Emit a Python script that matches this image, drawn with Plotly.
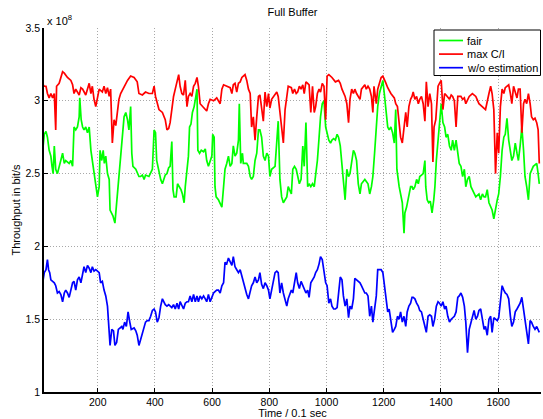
import plotly.graph_objects as go

# Time in units of 0.1 s, throughput in units of 1e8 bit/s
fair_t = [9,13,19,24,30,36,40,44,48,53,59,65,71,77,83,88,100,106,112,117,123,129,135,137,142,147,152,158,164,170,176,181,187,193,199,205,208,214,219,223,228,234,240,243,249,253,260,265,270,274,280,286,292,298,304,309,315,319,323,333,338,344,350,356,362,367,379,391,397,402,406,412,420,426,
          436,442,448,453,459,463,467,474,479,485,491,496,502,506,512,517,521,526,531,537,543,547,550,556,562,570,576,581,587,593,599,602,607,610,614,622,634,640,645,651,657,663,669,674,680,686,692,695,700,706,709,721,727,733,738,744,750,756,762,767,773,779,785,791,797,802,808,820,826,831,837,843,849,855,861,866,
          877,882,888,894,899,905,911,917,922,928,934,939,945,951,957,962,968,974,979,985,991,997,1002,1008,1014,1019,1025,1031,1037,1042,1048,1054,1059,1065,1071,1077,1082,1088,1094,1099,1105,1111,1117,1122,1134,1145,1151,1157,1162,1168,1174,1179,1185,1191,1197,1202,1208,1214,1219,1225,1231,1237,1242,1246,1254,1259,1265,1271,1274,1280,1288,1294,1299,
          1303,1309,1315,1321,1326,1332,1338,1344,1347,1352,1357,1363,1369,1375,1379,1384,1390,1395,1401,1407,1413,1418,1424,1430,1436,1441,1447,1453,1459,1464,1470,1476,1482,1487,1493,1499,1505,1510,1522,1533,1539,1545,1551,1556,1562,1568,1574,1579,1585,1591,1597,1602,1608,1614,1620,1625,1631,1637,1643,1648,1654,1660,1666,1671,1677,1683,1689,1694,1700,1706,1712,1717,1723,1729,1735,1740,1744]
fair_y = [2.69,2.77,2.79,2.75,2.66,2.62,2.55,2.50,2.69,2.53,2.50,2.55,2.59,2.64,2.57,2.59,2.57,2.59,2.55,2.82,2.80,2.82,2.89,3.02,2.87,2.82,2.80,2.82,2.78,2.82,2.66,2.59,2.50,2.41,2.34,2.41,2.66,2.59,2.66,2.57,2.62,2.50,2.46,2.25,2.23,2.21,2.16,2.27,2.41,2.50,2.62,2.78,2.89,2.92,2.87,2.80,2.96,2.64,2.55,2.53,2.50,2.48,2.48,2.49,2.46,2.49,2.48,2.53,2.80,2.78,2.59,2.53,2.46,2.43,
          2.49,2.50,2.54,2.55,2.72,2.39,2.34,2.34,2.43,2.41,2.39,2.36,2.30,2.41,2.55,2.62,2.82,2.84,2.92,2.96,3.03,3.08,2.66,2.64,2.66,2.65,2.67,2.59,2.55,2.59,2.62,2.77,2.75,2.41,2.34,2.32,2.27,2.41,2.53,2.57,2.62,2.55,2.57,2.69,2.62,2.64,2.73,2.98,2.57,2.64,2.57,2.57,2.55,2.48,2.46,2.48,2.59,2.64,2.80,2.80,2.75,2.62,2.59,2.64,2.62,2.48,2.53,2.55,2.71,2.86,2.46,2.34,2.30,2.32,2.34,2.41,
          2.36,2.53,2.55,2.53,2.48,2.43,2.46,2.69,2.55,2.85,2.41,2.43,2.41,2.43,2.41,2.48,2.59,2.75,2.89,2.98,3.00,2.82,2.78,2.73,2.71,2.73,2.74,2.73,2.77,2.75,2.69,2.57,2.46,2.32,2.53,2.48,2.50,2.59,2.66,2.64,2.59,2.43,2.36,2.43,2.46,2.43,2.36,2.41,2.48,2.64,2.82,2.96,3.05,3.10,3.14,3.05,2.94,2.82,2.80,2.82,2.78,2.71,2.94,2.53,2.41,2.36,2.30,2.09,2.23,2.27,2.36,2.41,2.41,
          2.39,2.41,2.46,2.43,2.48,2.49,2.50,2.59,2.41,2.32,2.30,2.31,2.23,2.32,2.41,2.59,2.71,2.82,2.98,2.85,2.82,2.75,2.77,2.69,2.66,2.73,2.66,2.73,2.62,2.57,2.55,2.48,2.53,2.41,2.46,2.48,2.41,2.39,2.34,2.36,2.32,2.36,2.34,2.34,2.39,2.30,2.27,2.25,2.19,2.27,2.32,2.36,2.48,2.66,2.75,2.77,2.88,2.73,2.66,2.59,2.62,2.71,2.64,2.59,2.69,2.82,2.66,2.48,2.41,2.32,2.50,2.53,2.55,2.56,2.57,2.50,2.43]

maxci_t = [9,13,19,24,30,36,42,48,53,56,65,77,83,94,106,112,117,123,135,141,147,158,170,176,181,187,193,199,205,216,222,228,234,240,245,251,257,263,269,274,280,292,304,315,327,338,344,356,367,379,391,397,402,414,426,
           436,442,448,453,459,465,471,477,483,488,494,500,506,512,517,523,529,535,541,547,552,558,570,581,587,593,605,616,628,634,640,651,663,669,674,680,686,692,698,704,715,721,727,733,738,744,750,756,762,767,773,779,785,791,797,802,808,820,826,831,843,849,855,861,866,
           877,882,888,894,899,905,911,917,922,928,934,939,945,951,957,962,968,974,979,985,991,997,1002,1008,1019,1031,1042,1048,1054,1065,1071,1077,1082,1088,1094,1099,1105,1111,1117,1122,1128,1134,1139,1145,1151,1157,1162,1166,1174,1179,1185,1191,1197,1202,1208,1214,1225,1237,1242,1248,1254,1259,1265,1271,1277,1282,1288,1294,1299,
           1303,1309,1315,1321,1326,1332,1338,1344,1349,1355,1361,1367,1372,1376,1382,1386,1390,1395,1401,1407,1413,1418,1430,1436,1441,1447,1453,1459,1470,1476,1482,1487,1499,1510,1522,1533,1545,1556,1568,1574,1579,1585,1591,1597,1602,1608,1614,1620,1625,1637,1643,1648,1654,1660,1666,1671,1677,1683,1689,1694,1700,1706,1712,1717,1723,1729,1735,1740,1744]
maxci_y = [3.11,3.10,3.10,3.05,3.02,3.05,3.02,3.05,2.80,3.10,3.12,3.20,3.19,3.16,3.14,3.11,3.05,3.08,3.04,3.09,3.08,3.04,3.12,3.05,3.10,3.01,2.96,3.02,3.08,3.06,3.10,3.05,3.09,3.03,3.08,2.71,2.87,2.83,2.94,3.01,3.05,3.10,3.14,3.17,3.16,3.13,3.05,3.04,3.06,3.05,3.05,3.10,3.03,2.94,2.92,
           2.87,2.80,2.81,2.85,2.94,3.03,3.08,3.14,3.18,3.10,3.05,3.04,3.14,2.96,3.03,3.05,3.03,3.10,3.12,3.16,3.10,2.98,2.95,2.93,2.98,3.01,3.00,3.02,2.98,3.08,3.11,3.10,3.09,3.05,3.11,3.12,3.06,3.12,3.13,3.16,3.18,3.14,3.08,3.05,2.82,2.89,2.73,2.89,3.03,3.04,2.96,2.86,3.06,2.96,3.05,2.95,3.01,3.05,3.06,3.03,2.82,2.71,2.94,3.03,3.10,
           3.09,3.05,3.08,3.05,3.06,3.10,3.08,3.11,3.05,3.13,3.12,3.11,2.92,3.10,2.92,2.96,3.05,3.08,3.06,3.12,3.10,2.87,3.17,3.18,3.16,3.13,3.14,3.12,3.08,3.03,2.98,2.85,3.01,3.08,3.05,3.08,3.05,3.03,3.01,3.08,3.10,3.11,3.08,3.10,3.08,3.03,2.92,3.10,2.98,3.08,3.12,3.16,3.17,3.14,3.12,3.09,3.05,3.02,2.98,2.96,2.85,2.75,2.71,2.80,2.92,2.82,2.96,3.01,3.03,
           3.06,3.01,3.03,2.98,3.01,3.03,2.98,2.86,3.13,2.96,3.05,2.98,2.58,2.82,2.87,3.01,3.10,3.12,3.14,2.94,3.05,3.04,3.01,3.04,3.03,3.00,2.82,3.03,3.03,3.01,3.02,2.98,3.03,3.05,3.03,2.98,2.96,2.94,3.05,3.10,3.05,2.94,2.50,2.78,2.64,2.96,3.08,3.05,3.09,3.11,3.05,2.98,3.10,3.05,3.02,3.08,3.08,2.78,2.98,3.01,2.98,3.05,2.98,2.89,2.87,2.88,2.85,2.80,2.57]

woest_t = [9,13,19,24,28,32,36,42,48,53,59,65,71,77,83,88,94,100,106,112,117,123,129,135,141,147,152,158,164,170,176,181,187,193,199,205,210,216,222,228,234,240,243,249,255,260,266,272,278,284,288,294,300,306,312,317,327,333,338,344,350,356,362,367,373,379,385,391,397,402,408,414,420,426,
           436,442,448,453,459,465,471,477,483,488,494,500,506,512,517,523,529,535,541,547,552,558,564,570,576,581,587,593,599,605,610,616,622,628,634,640,645,651,657,663,669,674,680,686,692,698,704,709,715,721,727,733,738,744,750,756,762,767,773,779,785,791,797,802,808,814,820,826,831,837,843,849,855,861,866,
           877,882,888,894,899,905,911,917,922,928,934,939,945,951,957,962,968,974,979,985,991,997,1002,1008,1014,1019,1025,1031,1037,1042,1048,1054,1059,1065,1071,1077,1082,1088,1094,1099,1105,1111,1117,1122,1128,1134,1139,1145,1151,1157,1162,1168,1174,1179,1185,1191,1197,1202,1208,1214,1219,1225,1231,1237,1242,1248,1254,1259,1265,1271,1277,1282,1288,1294,1299,
           1303,1309,1315,1321,1326,1332,1338,1344,1349,1355,1361,1367,1372,1378,1384,1390,1395,1401,1407,1413,1418,1424,1430,1436,1441,1447,1453,1459,1464,1470,1476,1482,1487,1493,1499,1505,1510,1516,1522,1528,1533,1539,1545,1551,1556,1562,1568,1574,1579,1585,1591,1597,1602,1608,1614,1620,1625,1631,1637,1643,1648,1654,1660,1666,1671,1677,1683,1689,1694,1700,1706,1712,1717,1723,1729,1735,1740,1744]
woest_y = [1.77,1.82,1.84,1.91,1.84,1.82,1.77,1.76,1.75,1.73,1.68,1.69,1.67,1.62,1.68,1.70,1.68,1.65,1.70,1.75,1.76,1.70,1.77,1.79,1.75,1.82,1.86,1.82,1.87,1.85,1.82,1.86,1.83,1.84,1.83,1.82,1.75,1.76,1.70,1.66,1.59,1.45,1.32,1.43,1.42,1.32,1.34,1.43,1.44,1.45,1.43,1.48,1.45,1.55,1.48,1.43,1.44,1.42,1.39,1.32,1.36,1.41,1.45,1.48,1.49,1.49,1.52,1.56,1.57,1.55,1.48,1.51,1.59,1.64,
           1.60,1.59,1.60,1.59,1.58,1.60,1.57,1.61,1.57,1.62,1.60,1.57,1.61,1.62,1.62,1.66,1.62,1.67,1.62,1.66,1.62,1.66,1.64,1.66,1.64,1.62,1.67,1.62,1.65,1.68,1.69,1.70,1.70,1.68,1.73,1.75,1.89,1.88,1.92,1.89,1.87,1.93,1.86,1.84,1.82,1.84,1.79,1.75,1.70,1.67,1.64,1.70,1.73,1.75,1.79,1.75,1.77,1.82,1.74,1.71,1.75,1.73,1.70,1.64,1.70,1.75,1.82,1.83,1.82,1.68,1.75,1.68,1.64,1.59,1.64,
           1.70,1.68,1.75,1.82,1.75,1.71,1.76,1.73,1.71,1.68,1.70,1.65,1.75,1.77,1.79,1.82,1.84,1.88,1.93,1.91,1.84,1.75,1.73,1.61,1.64,1.59,1.57,1.57,1.58,1.68,1.79,1.77,1.66,1.59,1.64,1.51,1.59,1.57,1.64,1.78,1.77,1.76,1.75,1.73,1.70,1.68,1.68,1.66,1.52,1.59,1.48,1.59,1.66,1.84,1.84,1.84,1.82,1.75,1.64,1.55,1.57,1.48,1.41,1.43,1.45,1.52,1.50,1.55,1.48,1.52,1.45,1.55,1.59,1.61,1.65,
           1.65,1.64,1.61,1.59,1.56,1.55,1.50,1.45,1.41,1.52,1.53,1.52,1.45,1.50,1.59,1.62,1.61,1.59,1.62,1.57,1.59,1.52,1.48,1.50,1.51,1.52,1.55,1.65,1.66,1.68,1.65,1.59,1.48,1.27,1.43,1.48,1.50,1.56,1.50,1.52,1.56,1.57,1.50,1.43,1.45,1.39,1.50,1.52,1.41,1.51,1.50,1.49,1.51,1.61,1.73,1.70,1.68,1.67,1.64,1.52,1.45,1.48,1.55,1.57,1.59,1.61,1.65,1.56,1.52,1.41,1.33,1.49,1.48,1.45,1.43,1.45,1.42,1.41]

series_names = ["fair", "max C/I", "w/o estimation"]
series_colors = ["#00ff00", "#ff0000", "#0000ff"]
y_ticks = [1, 1.5, 2, 2.5, 3, 3.5]
y_tick_labels = ["1", "1.5", "2", "2.5", "3", "3.5"]
x_ticks = [200, 400, 600, 800, 1000, 1200, 1400, 1600]
SCALE = 1e8

W, H = 543, 419
ML, MR, MT, MB = 44, 2, 28, 27
PW, PH = W - ML - MR, H - MT - MB
FONT = "Liberation Sans, Arial, Helvetica, sans-serif"

def px(xp):
    return (xp - ML) / PW

def py(yp):
    return (H - MB - yp) / PH

fig = go.Figure()
for name, t, y, col in zip(series_names, [fair_t, maxci_t, woest_t],
                           [fair_y, maxci_y, woest_y], series_colors):
    fig.add_trace(go.Scatter(x=t, y=[v * SCALE for v in y], mode="lines", name=name,
                             line=dict(color=col, width=1.7), showlegend=False))

# MATLAB-style legend box
shapes = [dict(type="rect", xref="paper", yref="paper",
               x0=px(434), x1=px(540.5), y0=py(75.5), y1=py(30),
               fillcolor="white", line=dict(color="black", width=1), layer="above")]
annotations = []
for i, (name, col) in enumerate(zip(series_names, series_colors)):
    yy = 40.5 + i * 13.6
    shapes.append(dict(type="line", xref="paper", yref="paper",
                       x0=px(439), x1=px(463), y0=py(yy), y1=py(yy),
                       line=dict(color=col, width=1.7), layer="above"))
    annotations.append(dict(text=name, xref="paper", yref="paper", x=px(465), y=py(yy),
                            xanchor="left", yanchor="middle", showarrow=False,
                            font=dict(size=11, color="black")))

annotations.append(dict(text="x 10<sup>8</sup>", xref="paper", yref="paper",
                        x=0, y=1, xanchor="left", yanchor="bottom", showarrow=False,
                        font=dict(size=11, color="black"), xshift=1, yshift=-1))

fig.update_layout(
    width=W, height=H,
    margin=dict(l=ML, r=MR, t=MT, b=MB),
    paper_bgcolor="white", plot_bgcolor="white",
    font=dict(family=FONT, size=11, color="black"),
    title=dict(text="Full Buffer", x=0.5, xref="paper", xanchor="center",
               y=1 - 12 / H, yref="container", yanchor="middle",
               font=dict(size=11, color="black")),
    showlegend=False,
    xaxis=dict(range=[12, 1750], tickvals=x_ticks, ticks="inside", ticklen=4,
               tickcolor="black", showline=True, linecolor="black", linewidth=1.5,
               showgrid=True, gridcolor="#a8a8a8", griddash="1px,2px", gridwidth=1,
               zeroline=False, automargin=False,
               title=dict(text="Time / 0.1 sec", standoff=6, font=dict(size=11)),
               tickfont=dict(size=10.5)),
    yaxis=dict(range=[1 * SCALE, 3.5 * SCALE], tickvals=[v * SCALE for v in y_ticks],
               ticktext=y_tick_labels, ticks="inside", ticklen=4, tickcolor="black",
               showline=True, linecolor="black", linewidth=1.5,
               showgrid=True, gridcolor="#a8a8a8", griddash="1px,2px", gridwidth=1,
               zeroline=False, automargin=False,
               title=dict(text="Throughput in bit/s", standoff=3, font=dict(size=11)),
               tickfont=dict(size=10.5)),
    shapes=shapes,
    annotations=annotations,
)

fig.write_html("out.html")
